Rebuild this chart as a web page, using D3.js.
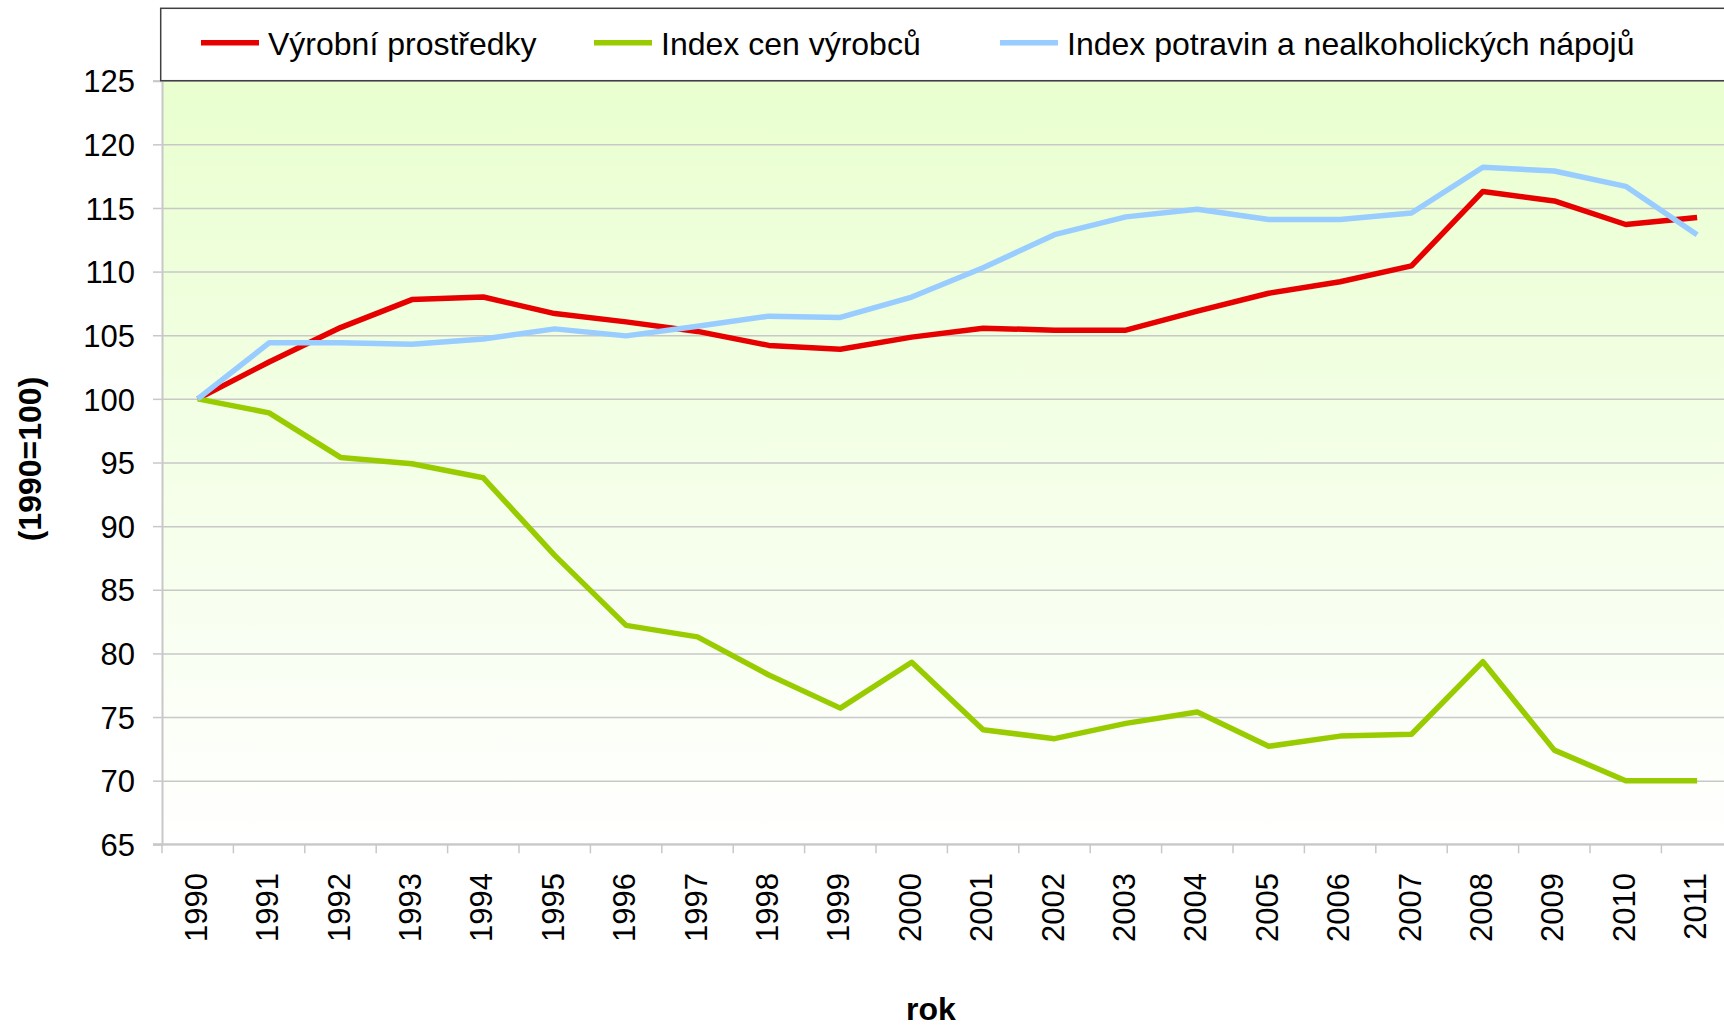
<!DOCTYPE html>
<meta charset="utf-8">
<script src="https://d3js.org/d3.v7.min.js"></script>
<style>
  body { margin: 0; background: #fff; }
  text { font-family: "Liberation Sans", Arial, sans-serif; fill: #000; }
</style>
<div id="graph"></div>
<script>

// data
var years = ["1990","1991","1992","1993","1994","1995","1996","1997","1998","1999","2000",
             "2001","2002","2003","2004","2005","2006","2007","2008","2009","2010","2011"];

var vyrobniProstredky = [100, 102.9, 105.6, 107.8, 108.0, 106.7, 106.05, 105.3, 104.2, 103.9, 104.85,
                         105.55, 105.4, 105.4, 106.9, 108.3, 109.2, 110.45, 116.3, 115.55, 113.7, 114.25];
var indexCenVyrobcu = [100, 98.9, 95.4, 94.9, 93.8, 87.7, 82.2, 81.3, 78.3, 75.7, 79.3,
                       74.0, 73.3, 74.5, 75.4, 72.7, 73.5, 73.65, 79.35, 72.4, 70.0, 70.0];
var indexPotravin = [100, 104.4, 104.4, 104.3, 104.7, 105.5, 104.95, 105.7, 106.5, 106.4, 108.0,
                     110.3, 112.9, 114.3, 114.9, 114.1, 114.1, 114.6, 118.2, 117.9, 116.7, 112.9];

var seriesNames = ["Výrobní prostředky", "Index cen výrobců", "Index potravin a nealkoholických nápojů"];
var seriesColors = ["#e60000", "#99cc00", "#99ccff"];
var yTicks = [65, 70, 75, 80, 85, 90, 95, 100, 105, 110, 115, 120, 125];

var W = 1724, H = 1028;
var plotLeft = 162, plotTop = 80.7, plotBottom = 844.3;
var band = 71.4;

var svg = d3.select("#graph").append("svg")
    .attr("width", W).attr("height", H);

var x = d3.scaleBand().domain(years).range([plotLeft, plotLeft + band * years.length]);
var y = d3.scaleLinear().domain([65, 125]).range([plotBottom, plotTop]);

// background gradient
var grad = svg.append("defs").append("linearGradient")
    .attr("id", "bg").attr("x1", 0).attr("y1", 0).attr("x2", 0).attr("y2", 1);
grad.append("stop").attr("offset", "0%").attr("stop-color", "#e9ffcf");
grad.append("stop").attr("offset", "100%").attr("stop-color", "#ffffff");

svg.append("rect")
    .attr("x", plotLeft).attr("y", plotTop)
    .attr("width", band * years.length).attr("height", plotBottom - plotTop)
    .attr("fill", "url(#bg)");

// grid lines
svg.append("g")
    .attr("transform", `translate(${plotLeft},0)`)
    .call(d3.axisLeft(y).tickValues(yTicks).tickFormat("").tickSize(-band * years.length))
    .call(g => g.select(".domain").remove())
    .selectAll("line")
    .attr("stroke", "#c8c8c8").attr("stroke-width", 1.5);

// y axis
svg.append("g")
    .attr("transform", `translate(${plotLeft},0)`)
    .call(d3.axisLeft(y).tickValues(yTicks).tickSize(9).tickPadding(18))
    .call(g => g.select(".domain").attr("stroke", "#c8c8c8").attr("stroke-width", 2))
    .call(g => g.selectAll("line").attr("stroke", "#c8c8c8").attr("stroke-width", 1.5))
    .call(g => g.selectAll("text").style("font-size", "31px")
        .style("font-family", "'Liberation Sans', Arial, sans-serif").attr("dy", "0.36em"));

// x axis line + ticks at the category borders
svg.append("line")
    .attr("x1", plotLeft - 9).attr("x2", W)
    .attr("y1", plotBottom).attr("y2", plotBottom)
    .attr("stroke", "#c8c8c8").attr("stroke-width", 2);

svg.append("g").selectAll("line")
    .data(years)
    .join("line")
    .attr("x1", d => x(d)).attr("x2", d => x(d))
    .attr("y1", plotBottom).attr("y2", plotBottom + 9)
    .attr("stroke", "#c8c8c8").attr("stroke-width", 1.5);

// x labels, rotated
svg.append("g").selectAll("text")
    .data(years)
    .join("text")
    .attr("transform", d => `translate(${x(d) + x.bandwidth() / 2 - 2},873) rotate(-90)`)
    .attr("text-anchor", "end")
    .attr("dy", "0.36em")
    .style("font-size", "31px")
    .text(d => d);

// lines
var allSeries = [vyrobniProstredky, indexCenVyrobcu, indexPotravin];
var line = d3.line()
    .x((d, i) => x(years[i]) + x.bandwidth() / 2)
    .y(d => y(d));

allSeries.forEach(function (s, k) {
    svg.append("path")
        .datum(s)
        .attr("d", line)
        .attr("fill", "none")
        .attr("stroke", seriesColors[k])
        .attr("stroke-width", 5.5)
        .attr("stroke-linejoin", "round");
});

// legend box
svg.append("rect")
    .attr("x", 160.7).attr("y", 8.3)
    .attr("width", 1600).attr("height", 72.4)
    .attr("fill", "#fff")
    .attr("stroke", "#404040").attr("stroke-width", 1.5);

var legX = [201, 594, 1000];
seriesNames.forEach(function (n, k) {
    svg.append("line")
        .attr("x1", legX[k]).attr("x2", legX[k] + 58)
        .attr("y1", 42.7).attr("y2", 42.7)
        .attr("stroke", seriesColors[k]).attr("stroke-width", 5.5);
    svg.append("text")
        .attr("x", legX[k] + 67).attr("y", 55)
        .style("font-size", "32px")
        .text(n);
});

// axis titles
svg.append("text")
    .attr("x", 931).attr("y", 1020)
    .attr("text-anchor", "middle")
    .style("font-size", "32px").style("font-weight", "bold")
    .text("rok");

svg.append("text")
    .attr("transform", "translate(29,459) rotate(-90)")
    .attr("text-anchor", "middle")
    .attr("dy", "0.36em")
    .style("font-size", "32px").style("font-weight", "bold")
    .text("(1990=100)");

</script>
